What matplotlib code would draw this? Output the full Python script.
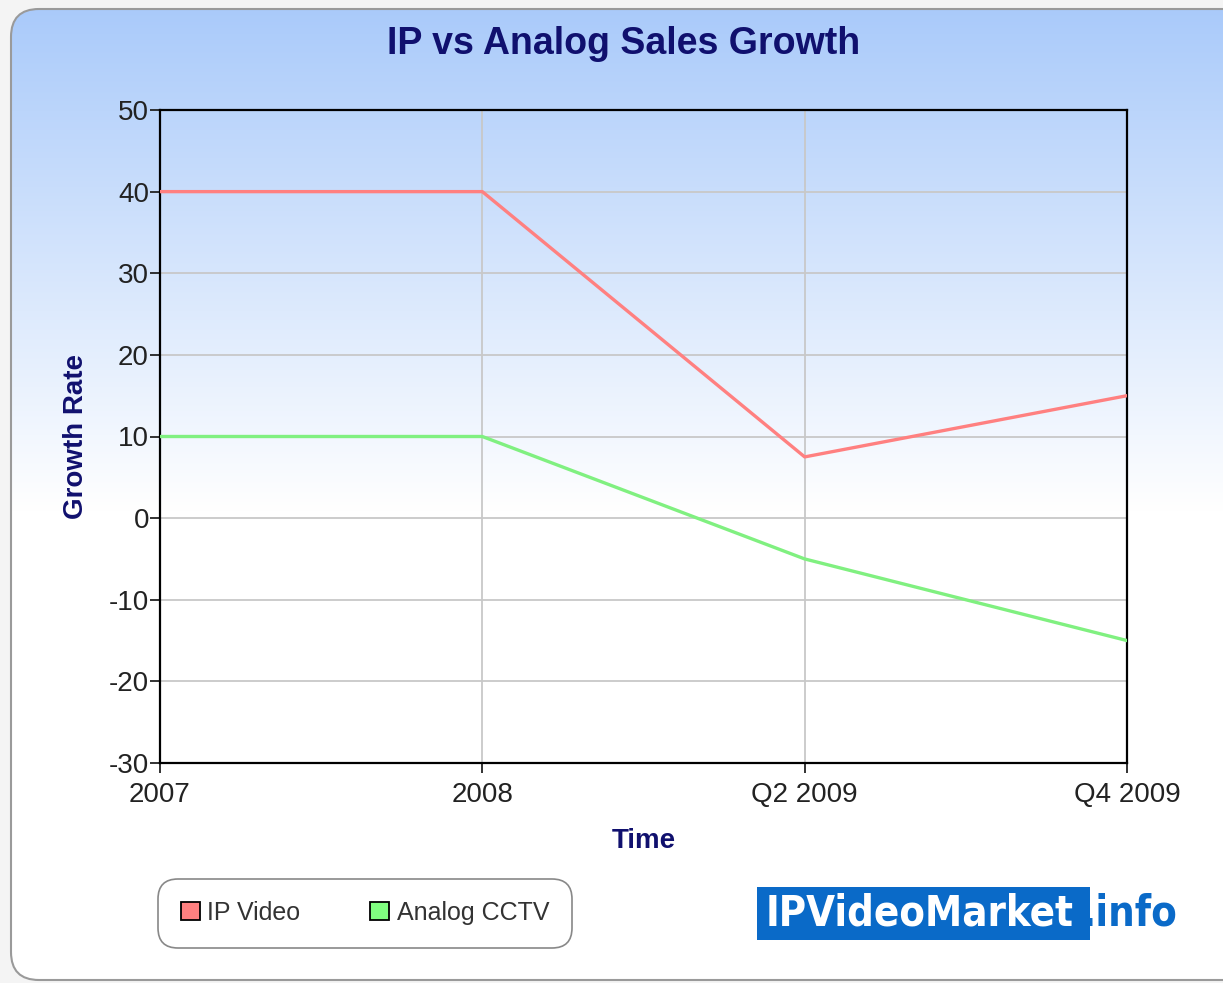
import numpy as np
import matplotlib
matplotlib.use("Agg")
import matplotlib.pyplot as plt
from matplotlib.patches import FancyBboxPatch, Rectangle
from matplotlib.ticker import FuncFormatter

periods = ["2007", "2008", "Q2 2009", "Q4 2009"]
ip_video = [40, 40, 7.5, 15]
analog_cctv = [10, 10, -5, -15]
y_ticks = [-30, -20, -10, 0, 10, 20, 30, 40, 50]

navy = "#10106e"
plt.rcParams['font.family'] = ['Liberation Sans', 'DejaVu Sans']

W, H = 1223, 983
fig = plt.figure(figsize=(W / 100, H / 100), dpi=100)
fig.patch.set_facecolor("#f4f4f4")

# background card with vertical gradient
bg = fig.add_axes([0, 0, 1, 1])
bg.set_xlim(0, W)
bg.set_ylim(H, 0)
bg.axis("off")
card = FancyBboxPatch((11, 9), W + 30, H - 12, boxstyle="round,pad=0,rounding_size=28",
                      facecolor="none", edgecolor="#9a9a9a", lw=1.5, zorder=3)
bg.add_patch(card)
t = np.clip(np.linspace(0, 1, H) / 0.52, 0, 1)[:, None]
top = np.array([0.66, 0.79, 0.98])
grad = top + (np.array([1.0, 1.0, 1.0]) - top) * t[:, :, None]
im = bg.imshow(grad, extent=[0, W, H, 0], aspect="auto", zorder=1)
im.set_clip_path(card)

fig.text(624 / W, 1 - 44 / H, "IP vs Analog Sales Growth", ha="center", va="center",
         fontsize=27, fontweight="bold", color=navy)

ax = fig.add_axes([160 / W, 1 - 763 / H, (1127 - 160) / W, (763 - 110) / H])
ax.patch.set_alpha(0)
x = np.arange(len(periods))
ax.plot(x, ip_video, color="#ff8080", lw=2.4, zorder=3)
ax.plot(x, analog_cctv, color="#80f080", lw=2.4, zorder=3)
ax.set_xlim(0, len(periods) - 1)
ax.set_ylim(-30, 50)
ax.set_yticks(y_ticks)
ax.yaxis.set_major_formatter(FuncFormatter(lambda v, p: "%d" % v))
ax.set_xticks(x)
ax.set_xticklabels(periods)
ax.grid(True, color="#c8c8c8", lw=1.3)
ax.set_axisbelow(True)
for s in ax.spines.values():
    s.set_color("black")
    s.set_linewidth(1.6)
ax.tick_params(labelsize=20, colors="#222222", length=7, width=1.3, pad=1)
ax.tick_params(axis="x", pad=7)
ax.set_ylabel("Growth Rate", fontsize=20, fontweight="bold", color=navy, labelpad=14)
ax.set_xlabel("Time", fontsize=20, fontweight="bold", color=navy, labelpad=14)

# legend
handles = [Rectangle((0, 0), 1, 1, facecolor="#ff8080", edgecolor="black", lw=1.3),
           Rectangle((0, 0), 1, 1, facecolor="#80ff80", edgecolor="black", lw=1.3)]
leg = fig.legend(handles, ["IP Video", "Analog CCTV"], ncol=2, loc="center",
                 bbox_to_anchor=(365 / W, 1 - 913 / H), fontsize=18, frameon=True,
                 handlelength=0.75, handleheight=0.75, handletextpad=0.3, columnspacing=2.8,
                 borderpad=0.9, fancybox=True)
leg.get_frame().set_edgecolor("#888888")
leg.get_frame().set_linewidth(1.2)
leg.get_frame().set_facecolor("white")
leg.get_frame().set_alpha(1)
leg.get_frame().set_boxstyle("round,pad=0,rounding_size=0.8")
for txt in leg.get_texts():
    txt.set_color("#333333")

# logo
bg.add_patch(Rectangle((757, 887), 333, 53, facecolor="#0a6ac8", edgecolor="none", zorder=4))
bg.text(766, 914, "IPVideoMarket", fontsize=30, fontweight="bold", color="white",
        family="DejaVu Sans", fontstretch="condensed", va="center", ha="left", zorder=5)
bg.text(1081, 914, ".info", fontsize=30, fontweight="bold", color="#0a6ac8",
        family="DejaVu Sans", fontstretch="condensed", va="center", ha="left", zorder=5)

fig.savefig("out.png", dpi=100, facecolor=fig.get_facecolor())
